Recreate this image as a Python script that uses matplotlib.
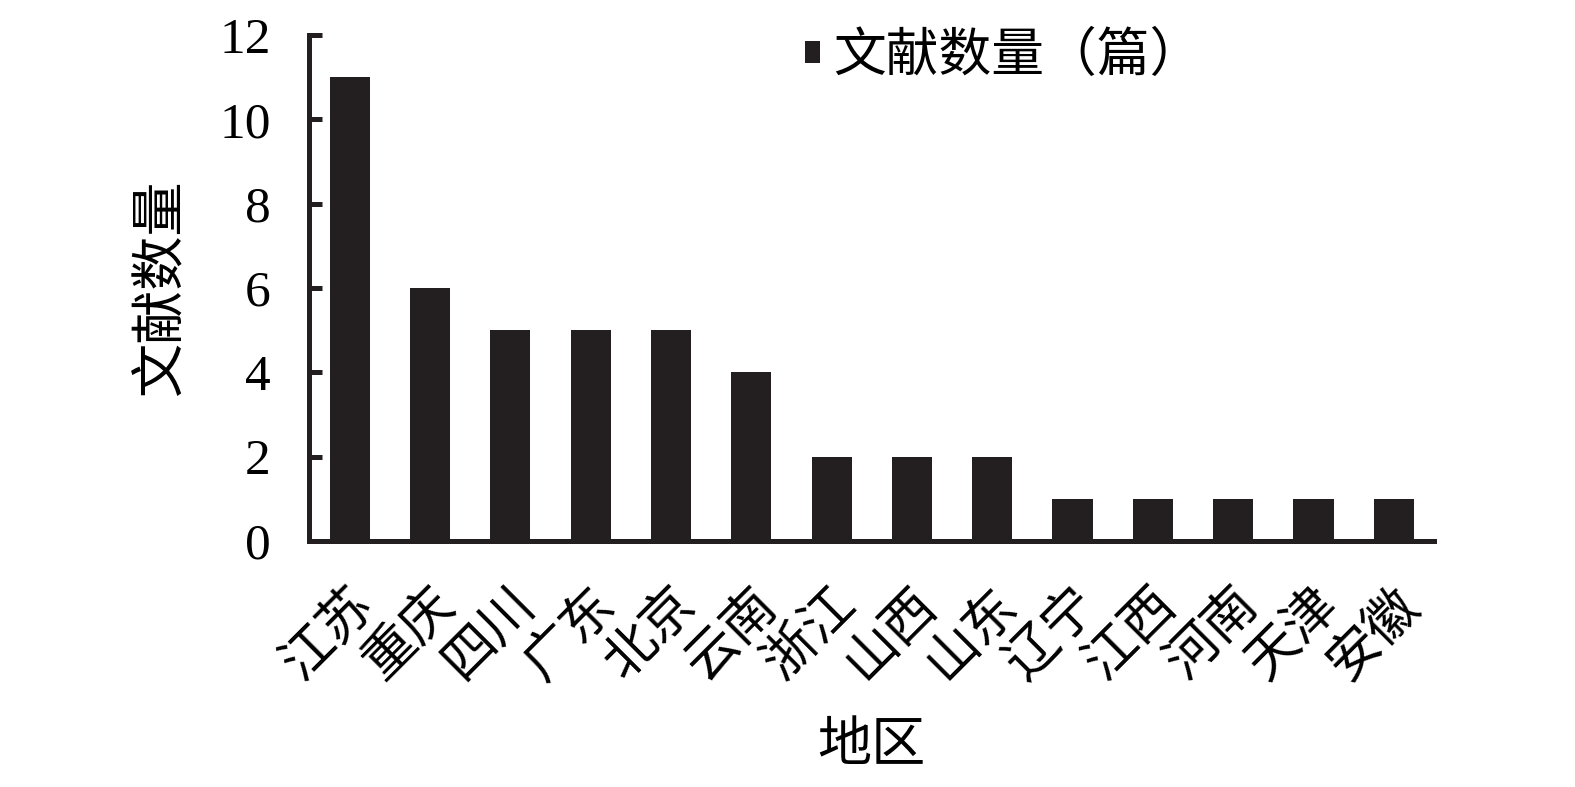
import matplotlib
matplotlib.use("Agg")
import matplotlib.pyplot as plt
import numpy as np

# font list: serif digits, CJK fallback
plt.rcParams['font.family'] = ['Liberation Serif', 'Noto Sans CJK SC']

# data
regions = ['江苏', '重庆', '四川', '广东', '北京', '云南', '浙江',
           '山西', '山东', '辽宁', '江西', '河南', '天津', '安徽']
counts = [11, 6, 5, 5, 5, 4, 2, 2, 2, 1, 1, 1, 1, 1]
yticks = [0, 2, 4, 6, 8, 10, 12]

bar_color = '#231f20'

fig = plt.figure(figsize=(15.75, 7.87), dpi=100)
ax = fig.add_axes([0.1965, 0.3125, 0.714, 0.643])

x = np.arange(len(regions))
ax.bar(x, counts, width=0.5, color=bar_color, label='文献数量（篇）')

ax.set_xlim(-0.5, len(regions) - 0.5)
ax.set_ylim(0, 12)
ax.set_yticks(yticks)
ax.set_xticks(x)
ax.set_xticklabels(regions, rotation=45, ha='right', rotation_mode='anchor')

for s in ['top', 'right']:
    ax.spines[s].set_visible(False)
for s in ['left', 'bottom']:
    ax.spines[s].set_linewidth(3.6)
    ax.spines[s].set_color(bar_color)

ax.tick_params(axis='y', direction='in', length=9, width=3.6, color=bar_color,
               labelsize=37, pad=28)
ax.tick_params(axis='x', length=0, labelsize=38, pad=28)

ax.set_ylabel('文献数量', fontsize=39, labelpad=22)
ax.set_xlabel('地区', fontsize=39, labelpad=24)

ax.legend(loc='upper left', bbox_to_anchor=(0.398, 1.1), frameon=False,
          fontsize=38, handlelength=0.3, handleheight=0.25, handletextpad=0.25)

fig.savefig('out.png', dpi=100)
